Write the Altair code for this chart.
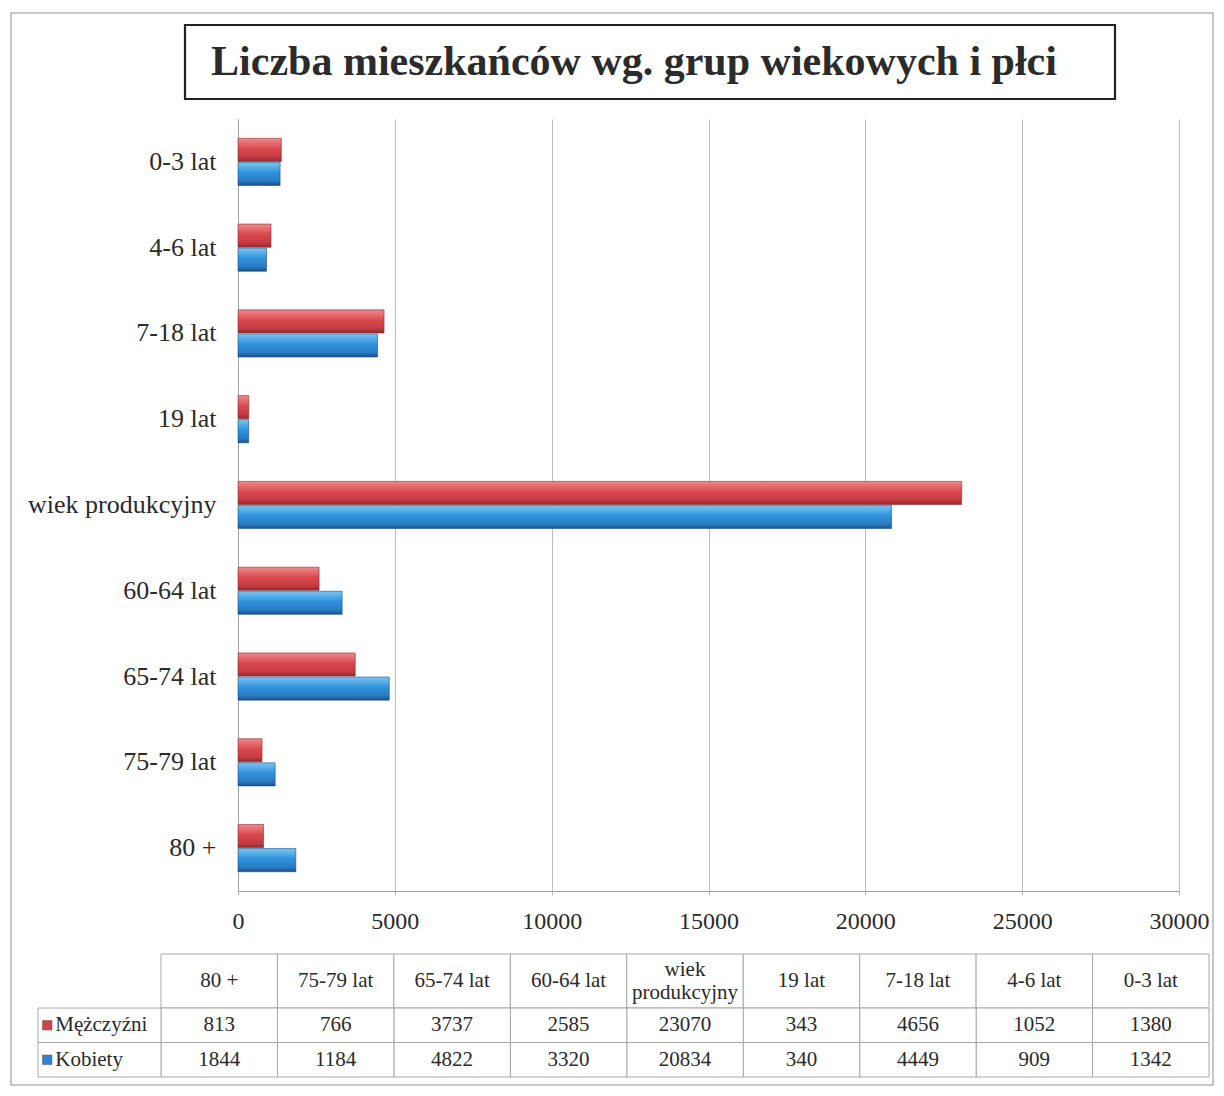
import altair as alt
import pandas as pd

# ---------------- data ----------------
categories = ["0-3 lat", "4-6 lat", "7-18 lat", "19 lat", "wiek produkcyjny",
              "60-64 lat", "65-74 lat", "75-79 lat", "80 +"]
men = [1380, 1052, 4656, 343, 23070, 2585, 3737, 766, 813]
women = [1342, 909, 4449, 340, 20834, 3320, 4822, 1184, 1844]
series = ["Mężczyźni", "Kobiety"]
table_order = ["80 +", "75-79 lat", "65-74 lat", "60-64 lat", "wiek produkcyjny",
               "19 lat", "7-18 lat", "4-6 lat", "0-3 lat"]
header_labels = ["80 +", "75-79 lat", "65-74 lat", "60-64 lat", "wiek\nprodukcyjny",
                 "19 lat", "7-18 lat", "4-6 lat", "0-3 lat"]
x_ticks = [0, 5000, 10000, 15000, 20000, 25000, 30000]
title_text = "Liczba mieszkańców wg. grup wiekowych i płci"

SERIF = "Liberation Serif"
TXT = "#2a2a2a"
GRID = "#bdbdbd"
CELL = "#a8a8a8"

rows = []
for c, m, w in zip(categories, men, women):
    rows.append({"category": c, "series": series[0], "value": m})
    rows.append({"category": c, "series": series[1], "value": w})
long = pd.DataFrame(rows)

# ---------------- bars ----------------
red_grad = alt.LinearGradient(
    gradient="linear", x1=0, x2=0, y1=0, y2=1,
    stops=[alt.GradientStop(color="#f08a8c", offset=0),
           alt.GradientStop(color="#d9484d", offset=0.45),
           alt.GradientStop(color="#c43c42", offset=0.8),
           alt.GradientStop(color="#8f2a2f", offset=1)])
blue_grad = alt.LinearGradient(
    gradient="linear", x1=0, x2=0, y1=0, y2=1,
    stops=[alt.GradientStop(color="#7cc4f2", offset=0),
           alt.GradientStop(color="#2f92dc", offset=0.45),
           alt.GradientStop(color="#2a7cc4", offset=0.8),
           alt.GradientStop(color="#1c4f86", offset=1)])

x_enc = alt.X("value:Q",
              scale=alt.Scale(domain=[0, 30000], nice=False),
              axis=alt.Axis(values=x_ticks, format="d", title=None,
                            labelFont=SERIF, labelFontSize=24, labelColor=TXT,
                            labelFlush=False,
                            grid=True, gridColor=GRID, gridWidth=1,
                            domainColor="#a0a0a0", tickColor=GRID, tickSize=4,
                            labelPadding=14))
y_enc = alt.Y("category:N",
              scale=alt.Scale(domain=categories, paddingInner=0.45, paddingOuter=0.225),
              axis=alt.Axis(title=None, labelFont=SERIF, labelFontSize=26,
                            labelColor=TXT, ticks=False, labelPadding=22,
                            domainColor="#a0a0a0", grid=False, labelLimit=400))
yo_enc = alt.YOffset("series:N", scale=alt.Scale(domain=series, paddingInner=0.04))

bars_m = alt.Chart(long).transform_filter(alt.datum.series == series[0]).mark_bar(
    fill=red_grad, stroke="#8a2a2e", strokeWidth=0.6
).encode(x=x_enc, y=y_enc, yOffset=yo_enc)
bars_w = alt.Chart(long).transform_filter(alt.datum.series == series[1]).mark_bar(
    fill=blue_grad, stroke="#1d4f85", strokeWidth=0.6
).encode(x=x_enc, y=y_enc, yOffset=yo_enc)
bars = alt.layer(bars_m, bars_w)

# ---------------- outer frame & title box ----------------
one = pd.DataFrame({"k": ["t"], "t": [title_text]})
fx = alt.X("k:N", scale=alt.Scale(domain=["t"], range=[-227, 975], paddingInner=0, paddingOuter=0), axis=None)
fy = alt.Y("k:N", scale=alt.Scale(domain=["t"], range=[-106, 966], paddingInner=0, paddingOuter=0), axis=None)
frame = alt.Chart(one).mark_rect(fillOpacity=0, stroke="#b5b5b5", strokeWidth=1.5).encode(x=fx, y=fy)

tx = alt.X("k:N", scale=alt.Scale(domain=["t"], range=[-53, 877], paddingInner=0, paddingOuter=0), axis=None)
ty = alt.Y("k:N", scale=alt.Scale(domain=["t"], range=[-94, -20], paddingInner=0, paddingOuter=0), axis=None)
title = alt.layer(
    alt.Chart(one).mark_rect(fill="white", stroke="#222222", strokeWidth=2.2).encode(x=tx, y=ty),
    alt.Chart(one).mark_text(font=SERIF, fontSize=42, fontWeight="bold", color="#2b2b2b",
                             baseline="middle", dx=-16).encode(x=tx, y=ty, text="t:N"),
)

# ---------------- data table ----------------
hdr = pd.DataFrame({"category": table_order, "label": header_labels, "row": "h"})
hx = alt.X("category:N", scale=alt.Scale(domain=table_order, range=[-77, 971],
                                         paddingInner=0, paddingOuter=0), axis=None)
hy = alt.Y("row:N", scale=alt.Scale(domain=["h"], range=[835, 889],
                                    paddingInner=0, paddingOuter=0), axis=None)
header = alt.layer(
    alt.Chart(hdr).mark_rect(fill="white", stroke=CELL, strokeWidth=1).encode(x=hx, y=hy),
    alt.Chart(hdr).transform_filter("indexof(datum.label, '\\n') < 0").mark_text(
        font=SERIF, fontSize=21, color=TXT, baseline="middle"
    ).encode(x=hx, y=hy, text="label:N"),
    alt.Chart(hdr).transform_filter("indexof(datum.label, '\\n') >= 0").mark_text(
        font=SERIF, fontSize=21, color=TXT, lineBreak="\n", lineHeight=23,
        baseline="middle", dy=-11.5
    ).encode(x=hx, y=hy, text="label:N"),
)

cy = alt.Y("series:N", scale=alt.Scale(domain=series, range=[889, 958],
                                       paddingInner=0, paddingOuter=0), axis=None)
cells = alt.layer(
    alt.Chart(long).mark_rect(fill="white", stroke=CELL, strokeWidth=1).encode(x=hx, y=cy),
    alt.Chart(long).mark_text(font=SERIF, fontSize=21, color=TXT,
                              baseline="middle").encode(x=hx, y=cy, text="value:Q"),
)

lab = pd.DataFrame({"series": series, "col": "lbl"})
lx_scale = alt.Scale(domain=["lbl"], range=[-200, -77], paddingInner=0, paddingOuter=0)
labels = alt.layer(
    alt.Chart(lab).mark_rect(fill="white", stroke=CELL, strokeWidth=1).encode(
        x=alt.X("col:N", scale=lx_scale, axis=None), y=cy),
    alt.Chart(lab).mark_square(size=90, opacity=1, stroke="#555555", strokeWidth=0.5).encode(
        x=alt.X("col:N", scale=lx_scale, axis=None, bandPosition=0.075), y=cy,
        color=alt.Color("series:N", scale=alt.Scale(domain=series, range=["#cf4449", "#2f86d0"]),
                        legend=None)),
    alt.Chart(lab).mark_text(font=SERIF, fontSize=21, color=TXT, align="left",
                             baseline="middle").encode(
        x=alt.X("col:N", scale=lx_scale, axis=None, bandPosition=0.14), y=cy, text="series:N"),
)

chart = alt.layer(frame, title, bars, header, cells, labels).resolve_scale(
    x="independent", y="independent"
).properties(
    width=941, height=772,
    padding={"left": 2, "top": 4, "right": 0, "bottom": 0},
    background="white",
).configure_view(stroke=None)

chart.save("out.html", embed_options={"renderer": "svg", "actions": False})
